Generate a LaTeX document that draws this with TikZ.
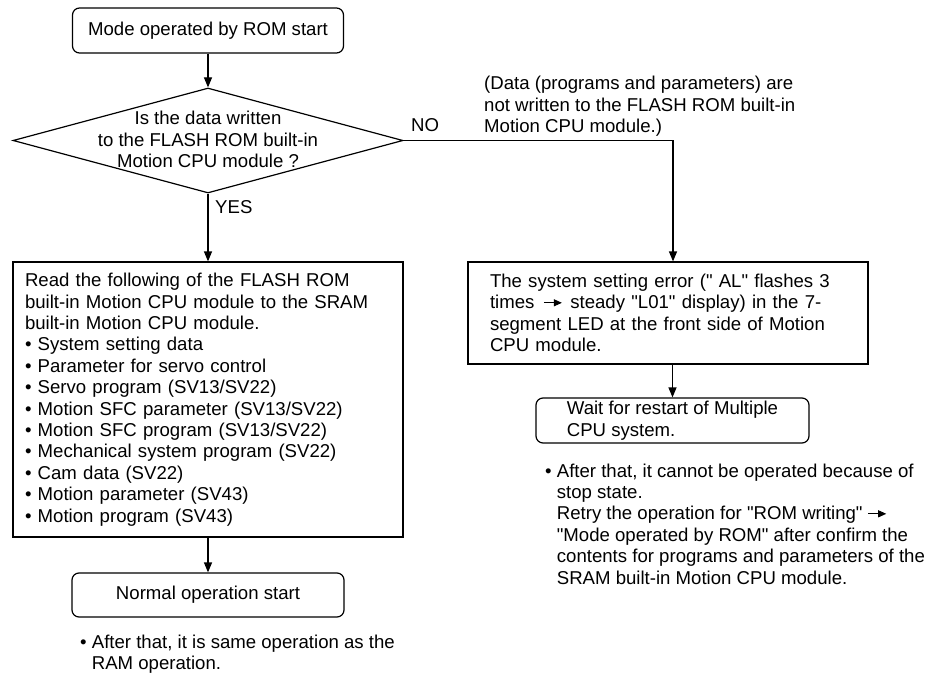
\documentclass[tikz,border=0pt]{standalone}
\usepackage{fontspec}
\setmainfont{Liberation Sans}[Ligatures=TeXOff]
\usetikzlibrary{shapes.geometric,arrows.meta}
\newcommand{\myarrow}{\tikz[baseline=-0.33em]\draw[line width=0.9pt,-{Triangle[width=7pt,length=8pt]}] (0pt,0pt) -- (18pt,0pt);}
\begin{document}
\begin{tikzpicture}[x=1pt,y=-1pt,
  every node/.style={font=\fontsize{18.6pt}{21.4pt}\selectfont},
  arr/.style={line width=1.2pt,-{Triangle[width=8pt,length=10pt]}},
  rbox/.style={draw,line width=1.2pt,rounded corners=7pt,inner sep=0},
  box/.style={draw,line width=1.2pt,inner sep=0},
  txt/.style={inner sep=0,align=left,anchor=west}]
\useasboundingbox (0,0) rectangle (930,677);
% left column
\node[rbox,minimum width=271pt,minimum height=45pt] (start) at (208,30.5) {Mode operated by ROM start};
\node[draw,diamond,line width=1.2pt,minimum width=390pt,minimum height=105pt,inner sep=0] (dec) at (208,140.5) {};
\node[inner sep=0,align=center] (dectext) at (208,139.5) {Is the data written\\to the FLASH ROM built-in\\Motion CPU module ?};
\node[box,minimum width=390pt,minimum height=275pt,text width=366pt,align=left] (read) at (208,399.5)
 {Read the following of the FLASH ROM\\
  built-in Motion CPU module to the SRAM\\
  built-in Motion CPU module.\\
  • System setting data\\
  • Parameter for servo control\\
  • Servo program (SV13/SV22)\\
  • Motion SFC parameter (SV13/SV22)\\
  • Motion SFC program (SV13/SV22)\\
  • Mechanical system program (SV22)\\
  • Cam data (SV22)\\
  • Motion parameter (SV43)\\
  • Motion program (SV43)};
\node[rbox,minimum width=272pt,minimum height=44pt] (normal) at (208,595) {Normal operation start};
\node[txt] (lnote) at (80,654) {• After that, it is same operation as the\\\phantom{• }RAM operation.};
\node[txt] (yes) at (215,207) {YES};
% right column
\node[txt] (no) at (411,125) {NO};
\node[txt] (dnote) at (484,106.5) {(Data (programs and parameters) are\\not written to the FLASH ROM built-in\\Motion CPU module.)};
\coordinate (nocorner) at (673,140.5);
\node[box,minimum width=400pt,minimum height=102pt,text width=356pt,align=left] (err) at (668,313)
 {The system setting error (" AL" flashes 3\\
  times\hspace{9pt}\myarrow\hspace{8pt}steady "L01" display) in the 7-\\
  segment LED at the front side of Motion\\
  CPU module.};
\node[rbox,minimum width=273pt,minimum height=45pt,align=left] (wait) at (672.5,420.5)
 {Wait for restart of Multiple\\CPU system.};
\node[txt] (rnote) at (545,524)
 {• After that, it cannot be operated because of\\
  \phantom{• }stop state.\\
  \phantom{• }Retry the operation for "ROM writing" \myarrow\\
  \phantom{• }"Mode operated by ROM" after confirm the\\
  \phantom{• }contents for programs and parameters of the\\
  \phantom{• }SRAM built-in Motion CPU module.};
% connectors
\draw[arr] (start) -- (dec);
\draw[arr] (dec) -- (read);
\draw[arr] (read) -- (normal);
\draw[arr] (dec.east) -- (nocorner) -- (nocorner |- err.north);
\draw[arr] (wait.north |- err.south) -- (wait.north);
\end{tikzpicture}
\end{document}
